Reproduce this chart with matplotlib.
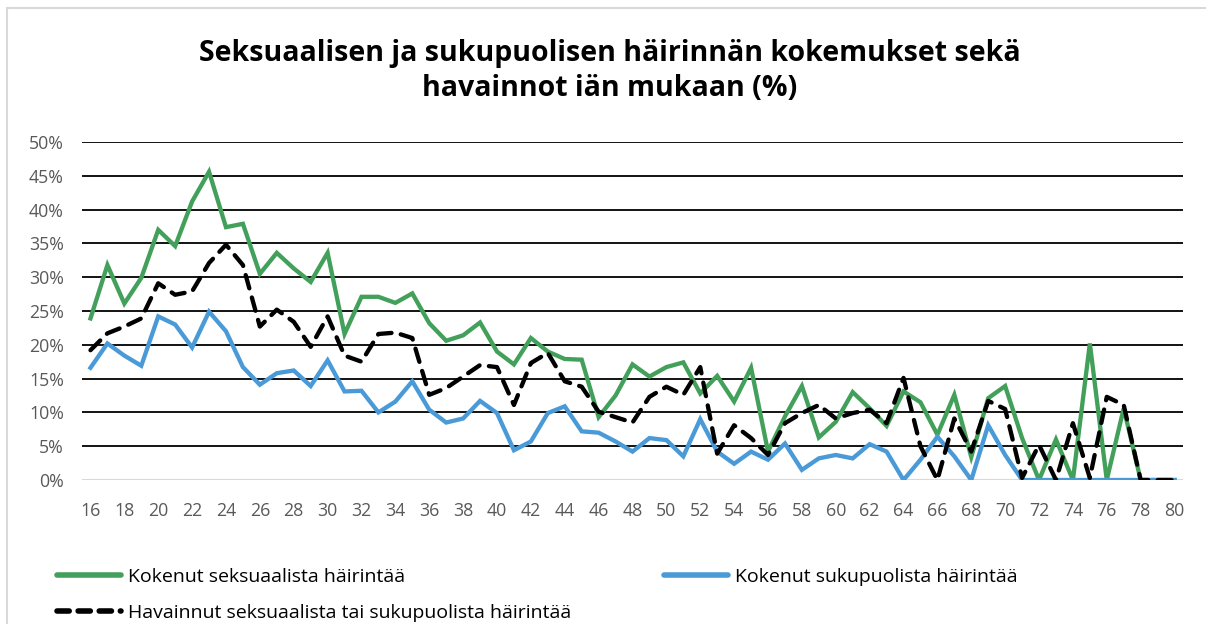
import matplotlib
matplotlib.use("Agg")
import matplotlib.pyplot as plt
from matplotlib.patches import Rectangle
from matplotlib.lines import Line2D
import numpy as np

ages = list(range(16, 81))

kokenut_seksuaalista = [
    23.9, 31.8, 26.1, 29.9, 37.0, 34.6, 41.2, 45.6, 37.4, 37.9,
    30.5, 33.6, 31.3, 29.3, 33.6, 21.6, 27.1, 27.1, 26.2, 27.6,
    23.2, 20.6, 21.4, 23.3, 19.0, 17.1, 21.0, 19.0, 17.9, 17.8,
    9.3, 12.5, 17.1, 15.3, 16.7, 17.4, 12.8, 15.4, 11.6, 16.6,
    4.2, 9.4, 13.9, 6.3, 8.6, 13.0, 10.6, 8.0, 13.1, 11.5,
    6.7, 12.6, 3.4, 12.1, 13.9, 6.2, 0.0, 6.0, 0.0, 20.2,
    0.0, 10.6, 0.0, 0.0, 0.0,
]

kokenut_sukupuolista = [
    16.6, 20.2, 18.4, 16.9, 24.2, 23.0, 19.6, 24.9, 22.0, 16.7,
    14.1, 15.8, 16.2, 13.9, 17.7, 13.1, 13.2, 10.0, 11.6, 14.6,
    10.4, 8.5, 9.1, 11.7, 9.9, 4.4, 5.7, 9.9, 10.9, 7.2,
    7.0, 5.7, 4.2, 6.2, 5.9, 3.5, 9.0, 4.2, 2.4, 4.2,
    3.0, 5.4, 1.5, 3.2, 3.7, 3.2, 5.3, 4.2, 0.0, 3.0,
    6.4, 3.5, 0.0, 8.1, 3.7, 0.0, 0.0, 0.0, 0.0, 0.0,
    0.0, 0.0, 0.0, 0.0, 0.0,
]

havainnut = [
    19.2, 21.7, 22.7, 23.9, 29.1, 27.4, 27.9, 32.1, 34.8, 31.8,
    22.7, 25.2, 23.4, 19.7, 24.2, 18.4, 17.5, 21.6, 21.8, 21.0,
    12.6, 13.6, 15.3, 17.0, 16.7, 11.1, 17.3, 18.8, 14.6, 13.8,
    10.1, 9.3, 8.5, 12.3, 13.8, 12.6, 16.7, 3.9, 8.1, 6.2,
    3.7, 8.4, 9.9, 11.1, 9.1, 9.9, 10.4, 8.4, 15.1, 5.0,
    0.0, 9.1, 4.2, 11.7, 10.5, 0.3, 5.2, 0.0, 8.4, 0.3,
    12.3, 11.1, 0.0, 0.0, 0.0,
]

labels = [
    "Kokenut seksuaalista häirintää",
    "Kokenut sukupuolista häirintää",
    "Havainnut seksuaalista tai sukupuolista häirintää",
]
title = "Seksuaalisen ja sukupuolisen häirinnän kokemukset sekä\nhavainnot iän mukaan (%)"

GREEN = "#43a05a"
BLUE = "#4a9ad8"
FONT = "Open Sans"
TICKCOL = "#595959"

W, H = 1206, 624
fig = plt.figure(figsize=(W / 100, H / 100), dpi=100)
fig.patch.set_facecolor("white")

# chart border
fig.patches.append(Rectangle((7 / W, -0.05), 1.1, (H - 8) / H + 0.05,
                             transform=fig.transFigure, fill=False,
                             edgecolor="#d9d9d9", linewidth=1.5))

ax = fig.add_axes([82 / W, 144 / H, (1183 - 82) / W, (480 - 142) / H])

x = np.array(ages)
g = np.array(kokenut_seksuaalista) / 100
b = np.array(kokenut_sukupuolista) / 100
k = np.array(havainnut) / 100

ax.plot(x, g, color=GREEN, lw=3.1, solid_joinstyle="miter", zorder=3)
ax.plot(x, b, color=BLUE, lw=3.1, solid_joinstyle="miter", zorder=4)
ax.plot(x, k, color="black", lw=3.1, linestyle=(0, (3.2, 2.2)),
        dash_capstyle="round", zorder=5)

ax.set_xlim(15.5, 80.5)
ax.set_ylim(0, 0.5)
yt = np.arange(0, 0.51, 0.05)
ax.set_yticks(yt)
ax.set_yticklabels([f"{int(round(v * 100))}%" for v in yt])
ax.set_xticks(list(range(16, 81, 2)))
ax.set_xticklabels([str(a) for a in range(16, 81, 2)])

for v in yt[1:]:
    ax.axhline(v, color="black", lw=1.3, zorder=1)
ax.axhline(0, color="#d9d9d9", lw=1.5, zorder=1)

for s in ax.spines.values():
    s.set_visible(False)
ax.tick_params(axis="both", length=0, labelsize=12.8, labelcolor=TICKCOL)
ax.tick_params(axis="y", pad=13)
ax.tick_params(axis="x", pad=16)
for t in ax.get_xticklabels() + ax.get_yticklabels():
    t.set_fontfamily(FONT)

fig.text(610 / W, 1 - 71 / H, title, ha="center", va="center",
         fontsize=20.5, fontweight="bold", fontfamily=FONT,
         linespacing=1.25)

h_g = Line2D([], [], color=GREEN, lw=4, solid_capstyle="round")
h_b = Line2D([], [], color=BLUE, lw=4, solid_capstyle="round")
h_k = Line2D([], [], color="black", lw=4, linestyle=(0, (2.2, 1.6)),
             dash_capstyle="round")

leg_kw = dict(frameon=False, handlelength=3.3, handletextpad=0.33,
              borderpad=0, borderaxespad=0, labelspacing=0.9,
              prop={"family": FONT, "size": 14})
fig.legend([h_g, h_k], [labels[0], labels[2]], loc="upper left",
           bbox_to_anchor=(57 / W, 1 - 568 / H), **leg_kw)
fig.legend([h_b], [labels[1]], loc="upper left",
           bbox_to_anchor=(664 / W, 1 - 568 / H), **leg_kw)

fig.savefig("out.png", dpi=100, facecolor="white")
